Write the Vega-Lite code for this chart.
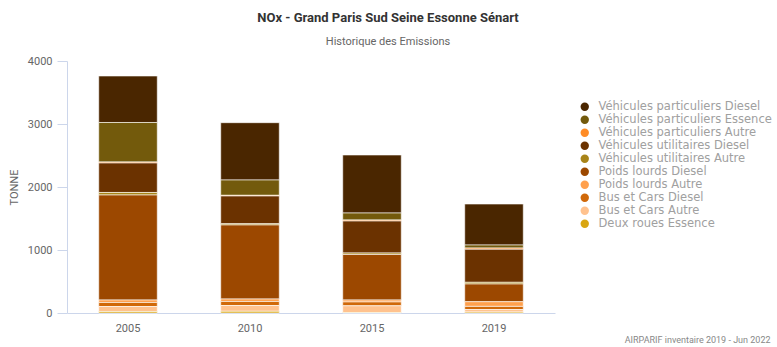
{
  "$schema": "https://vega.github.io/schema/vega-lite/v6.json",
  "autosize": {"type": "none"},
  "width": 488,
  "height": 252,
  "padding": {"left": 67, "top": 61, "right": 222, "bottom": 34},
  "background": "white",
  "title": {
    "text": "NOx - Grand Paris Sud Seine Essonne Sénart",
    "subtitle": "Historique des Emissions",
    "anchor": "middle",
    "dx": 77,
    "offset": 8,
    "font": "Roboto",
    "fontSize": 13,
    "fontWeight": "bold",
    "color": "#333333",
    "subtitleFont": "Roboto",
    "subtitleFontSize": 11,
    "subtitleColor": "#666666",
    "subtitlePadding": 11
  },
  "data": {
    "values": [
      {"annee": "2005", "secteur": "Véhicules particuliers Diesel", "t": 738},
      {"annee": "2005", "secteur": "Véhicules particuliers Essence", "t": 627},
      {"annee": "2005", "secteur": "Véhicules particuliers Autre", "t": 16},
      {"annee": "2005", "secteur": "Véhicules utilitaires Diesel", "t": 468},
      {"annee": "2005", "secteur": "Véhicules utilitaires Autre", "t": 40},
      {"annee": "2005", "secteur": "Poids lourds Diesel", "t": 1667},
      {"annee": "2005", "secteur": "Poids lourds Autre", "t": 39},
      {"annee": "2005", "secteur": "Bus et Cars Diesel", "t": 64},
      {"annee": "2005", "secteur": "Bus et Cars Autre", "t": 79},
      {"annee": "2005", "secteur": "Deux roues Essence", "t": 24},
      {"annee": "2010", "secteur": "Véhicules particuliers Diesel", "t": 910},
      {"annee": "2010", "secteur": "Véhicules particuliers Essence", "t": 243},
      {"annee": "2010", "secteur": "Véhicules particuliers Autre", "t": 11},
      {"annee": "2010", "secteur": "Véhicules utilitaires Diesel", "t": 440},
      {"annee": "2010", "secteur": "Véhicules utilitaires Autre", "t": 20},
      {"annee": "2010", "secteur": "Poids lourds Diesel", "t": 1175},
      {"annee": "2010", "secteur": "Poids lourds Autre", "t": 39},
      {"annee": "2010", "secteur": "Bus et Cars Diesel", "t": 64},
      {"annee": "2010", "secteur": "Bus et Cars Autre", "t": 92},
      {"annee": "2010", "secteur": "Deux roues Essence", "t": 27},
      {"annee": "2015", "secteur": "Véhicules particuliers Diesel", "t": 921},
      {"annee": "2015", "secteur": "Véhicules particuliers Essence", "t": 111},
      {"annee": "2015", "secteur": "Véhicules particuliers Autre", "t": 16},
      {"annee": "2015", "secteur": "Véhicules utilitaires Diesel", "t": 508},
      {"annee": "2015", "secteur": "Véhicules utilitaires Autre", "t": 23},
      {"annee": "2015", "secteur": "Poids lourds Diesel", "t": 723},
      {"annee": "2015", "secteur": "Poids lourds Autre", "t": 31},
      {"annee": "2015", "secteur": "Bus et Cars Diesel", "t": 61},
      {"annee": "2015", "secteur": "Bus et Cars Autre", "t": 106},
      {"annee": "2015", "secteur": "Deux roues Essence", "t": 8},
      {"annee": "2019", "secteur": "Véhicules particuliers Diesel", "t": 651},
      {"annee": "2019", "secteur": "Véhicules particuliers Essence", "t": 48},
      {"annee": "2019", "secteur": "Véhicules particuliers Autre", "t": 20},
      {"annee": "2019", "secteur": "Véhicules utilitaires Diesel", "t": 524},
      {"annee": "2019", "secteur": "Véhicules utilitaires Autre", "t": 27},
      {"annee": "2019", "secteur": "Poids lourds Diesel", "t": 281},
      {"annee": "2019", "secteur": "Poids lourds Autre", "t": 74},
      {"annee": "2019", "secteur": "Bus et Cars Diesel", "t": 50},
      {"annee": "2019", "secteur": "Bus et Cars Autre", "t": 40},
      {"annee": "2019", "secteur": "Deux roues Essence", "t": 15}
    ]
  },
  "transform": [
    {"calculate": "indexof(['Véhicules particuliers Diesel','Véhicules particuliers Essence','Véhicules particuliers Autre','Véhicules utilitaires Diesel','Véhicules utilitaires Autre','Poids lourds Diesel','Poids lourds Autre','Bus et Cars Diesel','Bus et Cars Autre','Deux roues Essence'], datum.secteur)", "as": "rang"}
  ],
  "mark": {"type": "bar", "stroke": "white", "strokeOpacity": 0.6, "strokeWidth": 1},
  "encoding": {
    "x": {
      "field": "annee",
      "type": "nominal",
      "scale": {"paddingInner": 0.52, "paddingOuter": 0.26},
      "axis": {
        "title": "AIRPARIF inventaire 2019 - Jun 2022",
        "titleAnchor": "end",
        "titleAlign": "right",
        "titleBaseline": "bottom",
        "titleX": 703,
        "titleY": 31,
        "titleFont": "Roboto",
        "titleFontSize": 9,
        "titleFontWeight": "normal",
        "titleColor": "#888888",
        "labelAngle": 0,
        "labelFont": "Roboto",
        "labelFontSize": 11,
        "labelColor": "#666666",
        "labelPadding": 9,
        "ticks": false,
        "domainColor": "#ccd6eb",
        "grid": false
      }
    },
    "y": {
      "field": "t",
      "type": "quantitative",
      "stack": "zero",
      "scale": {"domain": [0, 4000], "nice": false},
      "axis": {
        "title": "TONNE",
        "titleFont": "Roboto",
        "titleFontSize": 11,
        "titleFontWeight": "normal",
        "titleColor": "#666666",
        "titlePadding": 8,
        "values": [0, 1000, 2000, 3000, 4000],
        "format": "d",
        "labelFont": "Roboto",
        "labelFontSize": 11,
        "labelColor": "#666666",
        "labelPadding": 5,
        "tickSize": 10,
        "tickColor": "#ccd6eb",
        "domainColor": "#ccd6eb",
        "grid": false
      }
    },
    "color": {
      "field": "secteur",
      "type": "nominal",
      "sort": ["Véhicules particuliers Diesel","Véhicules particuliers Essence","Véhicules particuliers Autre","Véhicules utilitaires Diesel","Véhicules utilitaires Autre","Poids lourds Diesel","Poids lourds Autre","Bus et Cars Diesel","Bus et Cars Autre","Deux roues Essence"],
      "scale": {
        "domain": ["Véhicules particuliers Diesel","Véhicules particuliers Essence","Véhicules particuliers Autre","Véhicules utilitaires Diesel","Véhicules utilitaires Autre","Poids lourds Diesel","Poids lourds Autre","Bus et Cars Diesel","Bus et Cars Autre","Deux roues Essence"],
        "range": ["#4a2600","#735a0c","#ff8c26","#6b3200","#a88418","#9c4800","#ffa04d","#d06808","#ffc28e","#d9a612"]
      },
      "legend": {
        "title": null,
        "orient": "none",
        "legendX": 512,
        "legendY": 40,
        "symbolType": "circle",
        "symbolSize": 70,
        "symbolStrokeWidth": 0,
        "labelFont": "DejaVu Sans",
        "labelFontSize": 11.5,
        "labelColor": "#a0a0a0",
        "labelOffset": 8,
        "rowPadding": 0,
        "labelLimit": 300
      }
    },
    "order": {"field": "rang", "type": "quantitative", "sort": "descending"}
  },
  "config": {"view": {"stroke": null}}
}
